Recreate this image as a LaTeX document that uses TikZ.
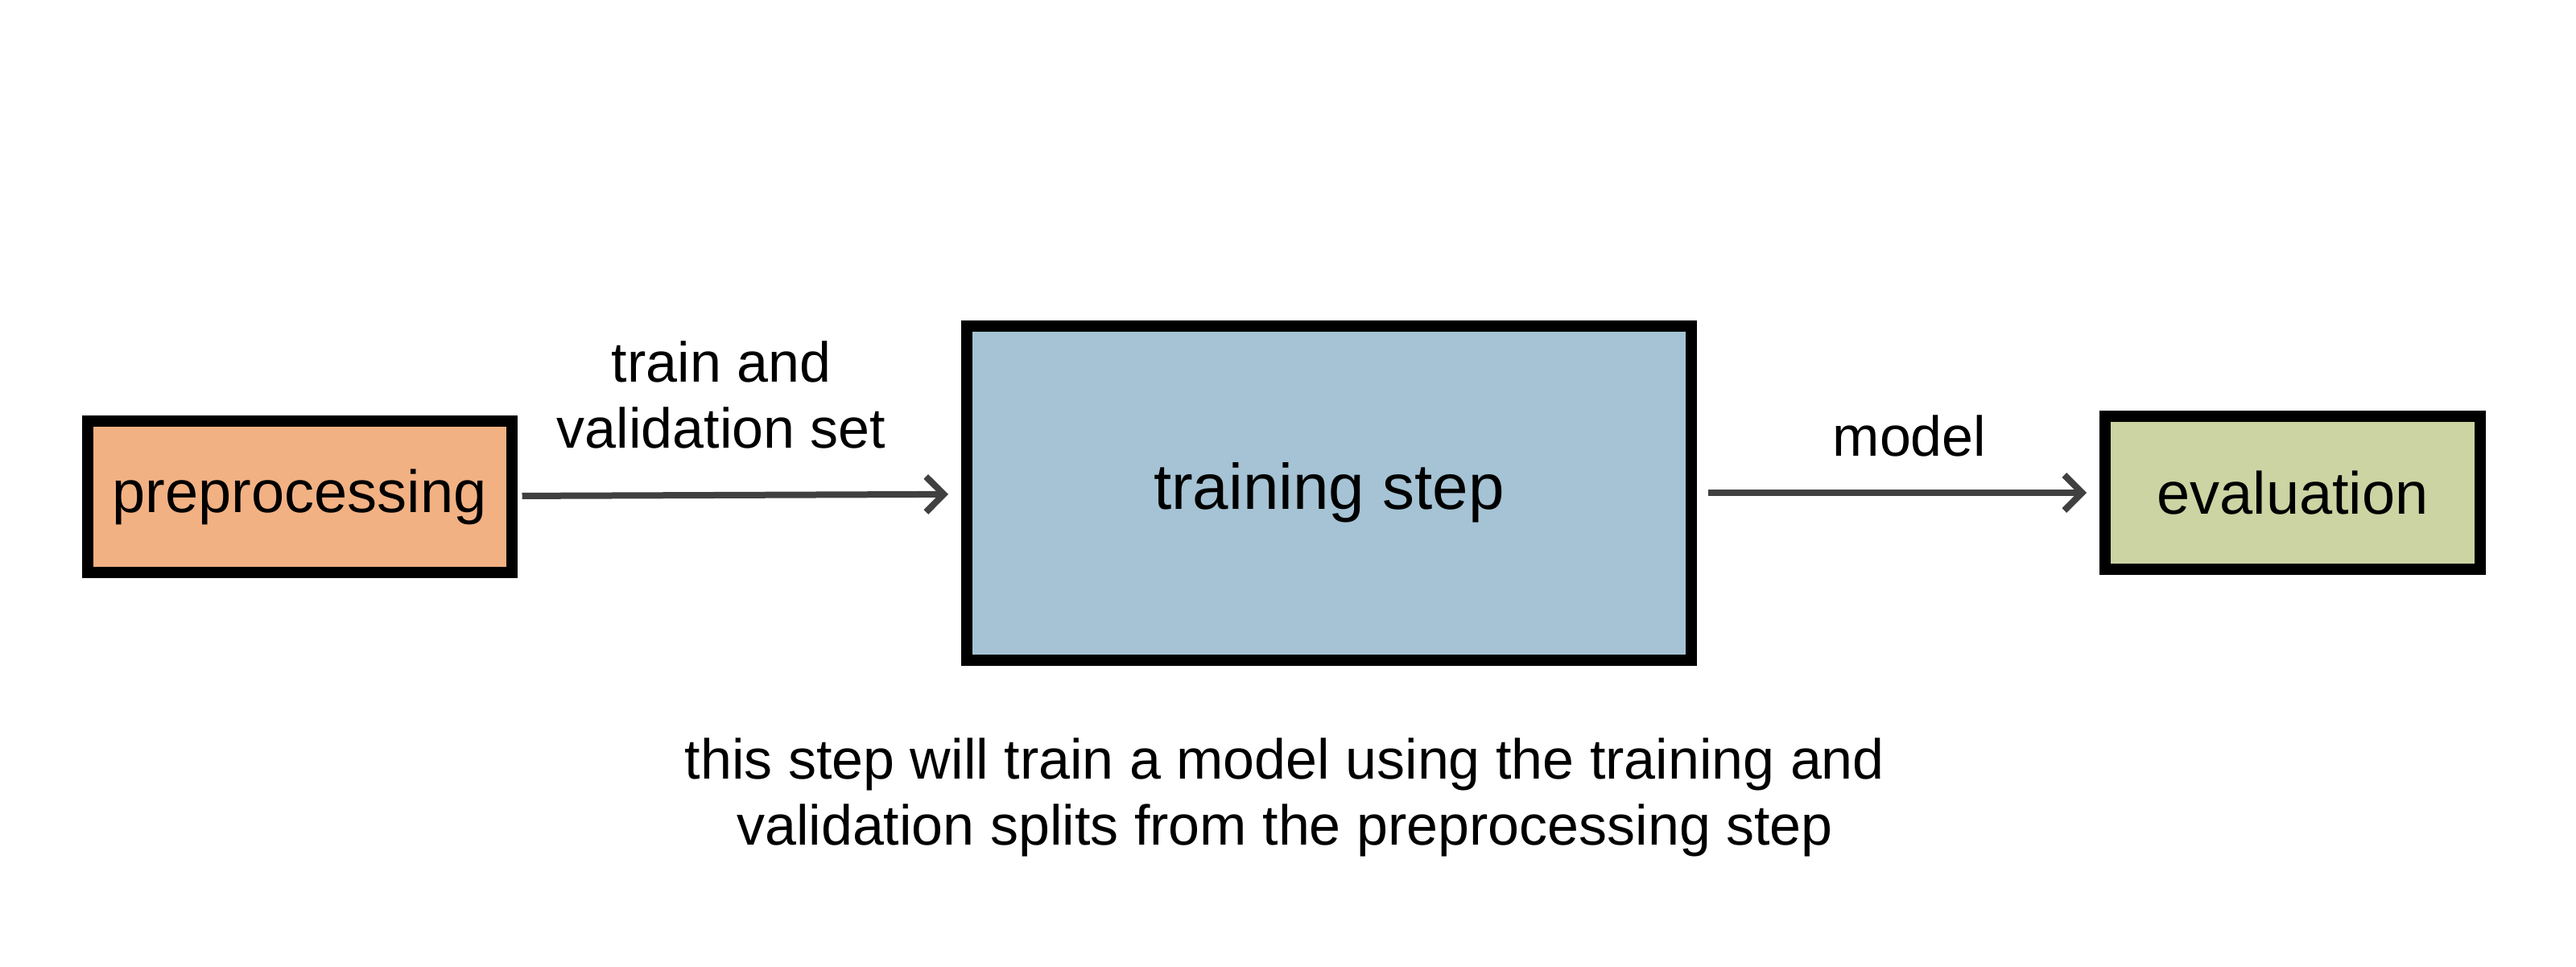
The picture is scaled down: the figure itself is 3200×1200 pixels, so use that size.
\documentclass[tikz,border=0pt]{standalone}
\usepackage{fontspec}
\setmainfont{Liberation Sans}
\usetikzlibrary{arrows.meta,positioning}

\definecolor{preorange}{HTML}{F2B183}
\definecolor{trainblue}{HTML}{A5C3D4}
\definecolor{evalgreen}{HTML}{CBD4A2}
\definecolor{arrowgray}{HTML}{404040}

\begin{document}
\begin{tikzpicture}[x=1pt,y=-1pt,
    stagebox/.style={draw=black, line width=14pt, rectangle, inner sep=0pt,
      font=\fontsize{74}{82}\selectfont},
    flow/.style={draw=arrowgray, line width=8pt,
      -{Straight Barb[length=22pt,width=44pt]}},
    note/.style={align=center, font=\fontsize{70}{82}\selectfont}]
          \useasboundingbox (0,0) rectangle (3200,1200);
          % the three stages
          \node[stagebox, fill=preorange, minimum width=527pt, minimum height=188pt]
                (pre) at (372,617) {preprocessing};
          \node[stagebox, fill=trainblue, minimum width=900pt, minimum height=415pt,
                font=\fontsize{80}{82}\selectfont]
                (train) at (1651,612) {training step};
          \node[stagebox, fill=evalgreen, minimum width=466pt, minimum height=190pt]
                (eval) at (2848,612) {evaluation};
          % flows between them
          \draw[flow, shorten <=6pt, shorten >=16pt] (pre) -- (train);
          \draw[flow, shorten <=14pt, shorten >=16pt] (train) -- (eval);
          \node[note] (setlbl) at (896,490) {train and\\validation set};
          \node[note] (modellbl) at (2372,541) {model};
          % caption under the training step
          \node[note] (caption) at (1596,990)
                {this step will train a model using the training and\\
                 validation splits from the preprocessing step};
        \end{tikzpicture}
\end{document}
